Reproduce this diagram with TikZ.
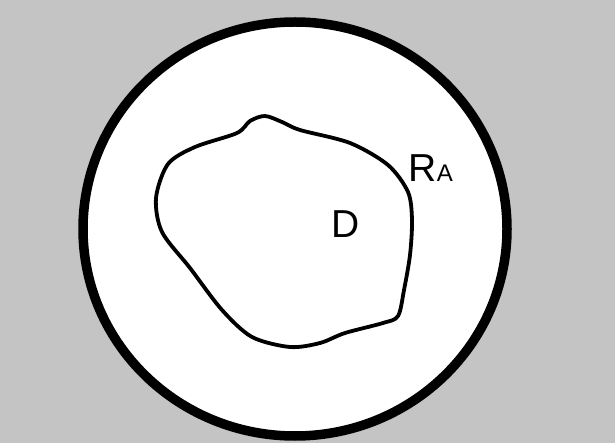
\documentclass[tikz,border=0pt]{standalone}
\usepackage{fontspec}
\setmainfont{Liberation Sans}
\usetikzlibrary{positioning}
\definecolor{rgray}{RGB}{196,196,196}
\tikzset{
  rim/.style={draw=black, line width=9.5pt, fill=white},
  blob/.style={draw=black, line width=3.8pt, line join=round},
  lab/.style={inner sep=0pt, text=black},
}

\begin{document}
\begin{tikzpicture}[x=1pt,y=-1pt]
% hatched surround
\fill[rgray] (0,0) rectangle (615,443);
\useasboundingbox (0,0) rectangle (615,443);
% region R_A
\draw[rim] (295,229) ellipse [x radius=212, y radius=207];
% domain D
\draw[blob] plot[smooth cycle, tension=0.5] coordinates {
  (156,198) (168,164) (195,147) (237,133) (250,121) (265,116)
  (282,122) (300,130) (350,143) (388,165) (408,192) (412,220)
  (410,255) (404,290) (398,316) (383,323) (345,333) (320,343)
  (290,347) (252,337) (222,310) (190,268) (162,232)};
\node[lab, anchor=base west, font=\fontsize{39}{39}\selectfont] (dlab) at (331,238) {D};
\node[lab, anchor=base west, font=\fontsize{39}{39}\selectfont] (rlab) at (408,182) {R};
\node[lab, anchor=base west, font=\fontsize{24}{24}\selectfont] (alab) at (rlab.base east) {A};
\end{tikzpicture}
\end{document}
